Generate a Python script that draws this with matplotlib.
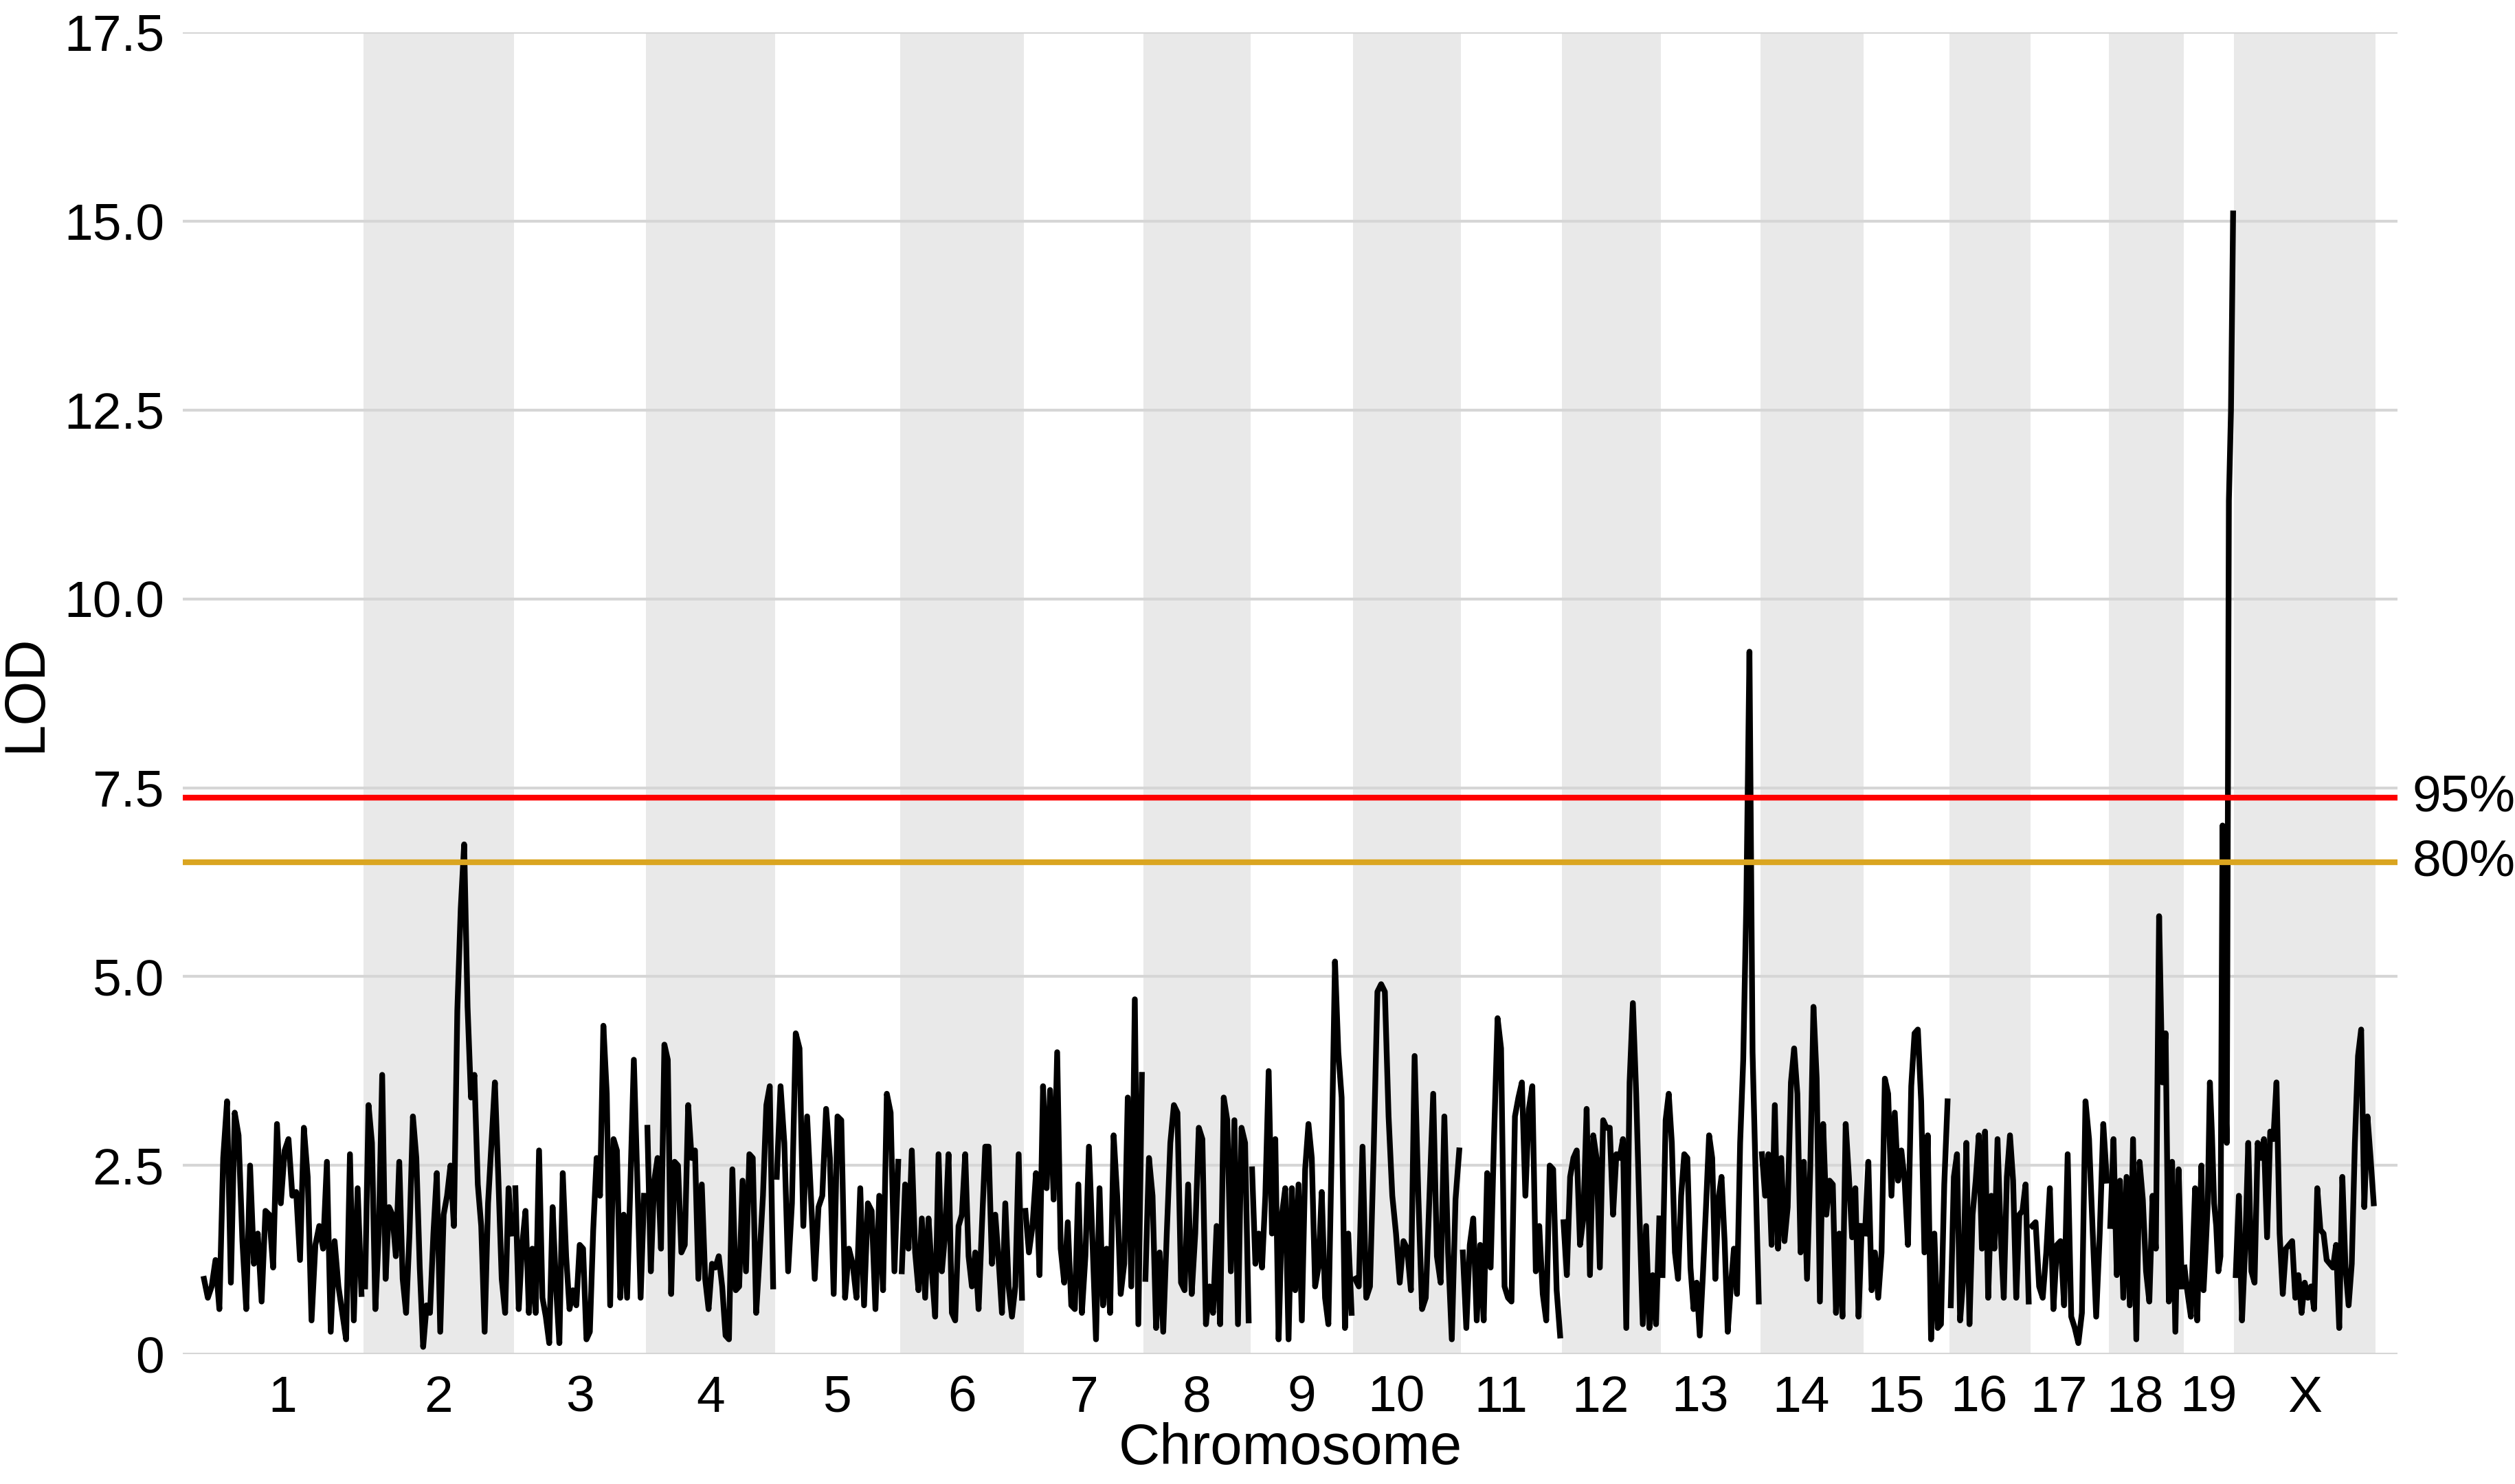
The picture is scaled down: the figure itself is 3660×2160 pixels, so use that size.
import numpy as np
import matplotlib.pyplot as plt

plt.rcParams['font.family'] = ['Liberation Sans', 'DejaVu Sans']

# chromosome names and lengths (Mb)
chrom_names = ['1', '2', '3', '4', '5', '6', '7', '8', '9', '10',
               '11', '12', '13', '14', '15', '16', '17', '18', '19', 'X']
chrom_len = [195.5, 182.1, 160.0, 156.5, 151.8, 149.7, 145.4, 129.4, 124.6, 130.7,
             122.1, 120.1, 120.4, 124.9, 104.0, 98.2, 95.0, 90.7, 61.4, 171.0]

# LOD values read along each chromosome
lod_chr1 = [1.0, 0.75, 0.9, 1.25, 0.6, 2.6, 3.35, 0.95, 3.2, 2.9, 1.5, 0.6, 2.5, 1.2,
            1.6, 0.7, 1.9, 1.85, 1.15, 3.05, 2.0, 2.7, 2.85, 2.1, 2.15, 1.25, 3.0, 2.35,
            0.45, 1.45, 1.7, 1.4, 2.55, 0.3, 1.5, 0.9, 0.55, 0.2, 2.65, 0.45, 2.2, 0.8]
lod_chr2 = [0.9, 3.3, 2.8, 0.6, 1.6, 3.7, 1.0, 1.95, 1.85, 1.3, 2.55, 1.0, 0.55, 1.6,
            3.15, 2.6, 1.15, 0.1, 0.65, 0.55, 1.6, 2.4, 0.3, 1.85, 2.1, 2.5, 1.7, 4.55,
            5.9, 6.75, 4.6, 3.4, 3.7, 2.25, 1.7, 0.3, 2.0, 2.8, 3.6, 2.35, 1.0, 0.55, 2.2, 1.6]
lod_chr3 = [2.2, 0.6, 1.45, 1.9, 0.55, 1.4, 0.55, 2.7, 0.75, 0.5, 0.15, 1.95, 0.9, 0.15,
            2.4, 1.3, 0.6, 0.85, 0.65, 1.45, 1.4, 0.2, 0.3, 1.65, 2.6, 2.1, 4.35, 3.45,
            0.65, 2.85, 2.7, 0.75, 1.85, 0.75, 2.3, 3.9, 2.35, 0.75, 2.1]
lod_chr4 = [3.0, 1.1, 2.3, 2.6, 1.4, 4.1, 3.9, 0.8, 2.55, 2.5, 1.35, 1.45, 3.3, 2.6,
            2.7, 1.0, 2.25, 1.0, 0.6, 1.2, 1.15, 1.3, 0.9, 0.25, 0.2, 2.45, 0.85, 0.9,
            2.3, 1.1, 2.65, 2.6, 0.55, 1.3, 2.1, 3.3, 3.55, 0.9]
lod_chr5 = [2.35, 3.55, 2.8, 1.1, 2.0, 4.25, 4.05, 1.7, 3.15, 2.1, 1.0, 1.95, 2.1, 3.25,
            2.6, 0.8, 3.15, 3.1, 0.75, 1.4, 1.2, 0.75, 2.2, 0.65, 2.0, 1.9, 0.6, 2.1,
            0.85, 3.45, 3.2, 1.1, 2.55]
lod_chr6 = [1.1, 2.25, 1.4, 2.7, 1.35, 0.85, 1.8, 0.75, 1.8, 1.1, 0.5, 2.65, 1.1, 1.6,
            2.65, 0.55, 0.45, 1.7, 1.85, 2.65, 1.3, 0.9, 1.35, 0.6, 1.7, 2.75, 2.75, 1.2,
            1.85, 1.25, 0.55, 2.0, 0.9, 0.5, 0.9, 2.65, 0.75]
lod_chr7 = [1.9, 1.35, 1.7, 2.4, 1.05, 3.55, 2.2, 3.5, 2.05, 4.0, 1.4, 0.95, 1.75, 0.65,
            0.6, 2.25, 0.55, 1.3, 2.75, 1.5, 0.2, 2.2, 0.65, 1.4, 0.55, 2.9, 2.1, 0.8,
            1.2, 3.4, 0.9, 4.7, 0.4, 3.7]
lod_chr8 = [1.0, 2.6, 2.1, 0.35, 1.35, 0.3, 1.6, 2.8, 3.3, 3.2, 0.95, 0.85, 2.25, 0.8,
            1.6, 3.0, 2.85, 0.4, 0.9, 0.55, 1.7, 0.4, 3.4, 3.1, 1.1, 3.1, 0.4, 3.0, 2.8, 0.45]
lod_chr9 = [2.45, 1.2, 1.6, 1.15, 2.1, 3.75, 1.6, 2.85, 0.2, 1.85, 2.2, 0.2, 2.2, 0.85,
            2.25, 0.45, 2.45, 3.05, 2.6, 0.9, 1.15, 2.15, 0.75, 0.4, 2.7, 5.2, 4.0, 3.4,
            0.35, 1.6, 0.55]
lod_chr10 = [1.0, 0.9, 2.75, 0.75, 0.9, 2.7, 4.8, 4.9, 4.8, 3.15, 2.1, 1.6, 0.95, 1.5,
             1.4, 0.85, 3.95, 2.1, 0.6, 0.75, 2.1, 3.45, 1.3, 0.95, 3.15, 1.35, 0.2, 2.05, 2.7]
lod_chr11 = [1.35, 0.35, 1.45, 1.8, 0.45, 1.45, 0.45, 2.4, 1.15, 2.9, 4.45, 4.05, 0.9,
             0.75, 0.7, 3.15, 3.4, 3.6, 2.1, 3.25, 3.55, 1.1, 1.7, 0.8, 0.45, 2.5, 2.45,
             0.85, 0.25]
lod_chr12 = [1.75, 1.05, 2.35, 2.6, 2.7, 1.45, 1.8, 3.25, 1.05, 2.9, 2.6, 1.15, 3.1, 3.0,
             3.0, 1.85, 2.65, 2.6, 2.85, 0.35, 3.6, 4.65, 3.45, 1.85, 0.4, 1.7, 0.35, 1.05,
             0.4, 1.8]
lod_chr13 = [1.05, 3.1, 3.45, 2.8, 1.35, 1.0, 2.1, 2.65, 2.6, 1.15, 0.6, 0.95, 0.25, 1.05,
             1.95, 2.9, 2.6, 1.0, 2.05, 2.35, 1.5, 0.3, 0.9, 1.4, 0.8, 2.8, 3.9, 6.0, 9.3,
             4.0, 2.35, 0.7]
lod_chr14 = [2.65, 2.1, 2.65, 1.45, 3.3, 1.4, 2.6, 1.5, 1.95, 3.6, 4.05, 3.45, 1.35, 2.55,
             1.0, 2.45, 4.6, 3.65, 0.7, 3.05, 1.85, 2.3, 2.25, 0.55, 1.6, 0.5, 3.05, 2.35,
             1.55, 2.2, 0.5, 1.7]
lod_chr15 = [1.6, 2.55, 0.85, 1.35, 0.75, 1.35, 3.65, 3.45, 2.1, 3.2, 2.3, 2.7, 2.3, 1.45,
             3.55, 4.25, 4.3, 3.35, 1.35, 2.9, 0.2, 1.6, 0.35, 0.4, 2.25, 3.35]
lod_chr16 = [0.65, 2.35, 2.65, 0.45, 1.0, 2.8, 0.4, 1.85, 2.3, 2.9, 1.4, 2.95, 0.75, 2.1,
             1.4, 2.85, 1.6, 0.75, 2.35, 2.9, 2.3, 0.75, 1.85, 1.9, 2.25, 0.7]
lod_chr17 = [1.7, 1.75, 0.9, 0.75, 1.35, 2.2, 0.6, 1.45, 1.5, 0.65, 2.65, 0.5, 0.35, 0.15,
             0.55, 3.35, 2.85, 1.65, 0.5, 1.6, 3.05, 2.3]
lod_chr18 = [1.7, 2.85, 1.05, 2.3, 0.75, 2.35, 0.65, 2.85, 0.2, 2.55, 2.05, 1.1, 0.7, 2.1,
             1.4, 5.8, 3.6, 4.25, 0.7, 2.55, 0.3, 2.45, 0.9]
lod_chr19 = [1.15, 0.9, 0.7, 0.5, 1.4, 2.2, 0.45, 1.6, 2.5, 0.85, 1.4, 2.0, 3.6, 2.9,
             2.0, 1.7, 1.1, 1.3, 7.0, 3.9, 2.8, 11.3, 12.5, 15.1]
lod_chrX = [1.05, 2.1, 0.45, 1.4, 2.8, 1.1, 0.95, 2.8, 2.6, 2.85, 1.55, 2.95, 2.85, 3.6,
            1.6, 0.8, 1.4, 1.45, 1.5, 0.75, 1.05, 0.55, 0.95, 0.75, 0.9, 0.6, 2.2, 1.65,
            1.6, 1.25, 1.2, 1.15, 1.45, 0.35, 2.35, 1.15, 0.65, 1.2, 2.8, 3.95, 4.3, 1.95,
            3.15, 2.6, 2.0]

lod_by_chr = [lod_chr1, lod_chr2, lod_chr3, lod_chr4, lod_chr5, lod_chr6, lod_chr7,
              lod_chr8, lod_chr9, lod_chr10, lod_chr11, lod_chr12, lod_chr13, lod_chr14,
              lod_chr15, lod_chr16, lod_chr17, lod_chr18, lod_chr19, lod_chrX]

# permutation thresholds
thr_95 = 7.37
thr_80 = 6.51

y_ticks = [0, 2.5, 5.0, 7.5, 10.0, 12.5, 15.0, 17.5]
y_ticklabels = ['0', '2.5', '5.0', '7.5', '10.0', '12.5', '15.0', '17.5']

fig = plt.figure(figsize=(12.2, 7.2), dpi=300)
ax = fig.add_axes([0.0727, 0.0873, 0.9534 - 0.0727, 0.9784 - 0.0873])

starts = np.concatenate([[0], np.cumsum(chrom_len)[:-1]])
centers = []
for i, (s, L, vals) in enumerate(zip(starts, chrom_len, lod_by_chr)):
    if i % 2 == 1:
        ax.axvspan(s, s + L, color='#e9e9e9', lw=0, zorder=0)
    n = len(vals)
    x = s + (np.arange(n) + 0.5) / n * L
    ax.plot(x, vals, color='black', lw=2.0, zorder=2)
    c = s + L / 2
    if len(chrom_names[i]) == 2 and chrom_names[i] != '19':
        c -= 13
    centers.append(c)

ax.axhline(thr_95, color='red', lw=2, zorder=3)
ax.axhline(thr_80, color='goldenrod', lw=2, zorder=3)
ax.text(1.0065, thr_95, '95%', transform=ax.get_yaxis_transform(),
        ha='left', va='center', fontsize=18)
ax.text(1.0065, thr_80, '80%', transform=ax.get_yaxis_transform(),
        ha='left', va='center', fontsize=18)

ax.set_xlim(-23.3, 2660.8)
ax.set_ylim(0, 17.5)
ax.set_yticks(y_ticks)
ax.set_yticklabels(y_ticklabels)
ax.set_xticks(centers)
ax.set_xticklabels(chrom_names)
ax.yaxis.grid(True, color='#d6d6d6', lw=1.0)
ax.set_axisbelow(True)
ax.tick_params(axis='both', length=0, labelsize=18)
ax.tick_params(axis='x', pad=7)
ax.tick_params(axis='y', pad=6.5)
for sp in ax.spines.values():
    sp.set_visible(False)

ax.set_xlabel('Chromosome', fontsize=20, labelpad=0)
ax.set_ylabel('LOD', fontsize=20, labelpad=4)

fig.savefig('out.png', dpi=300)
